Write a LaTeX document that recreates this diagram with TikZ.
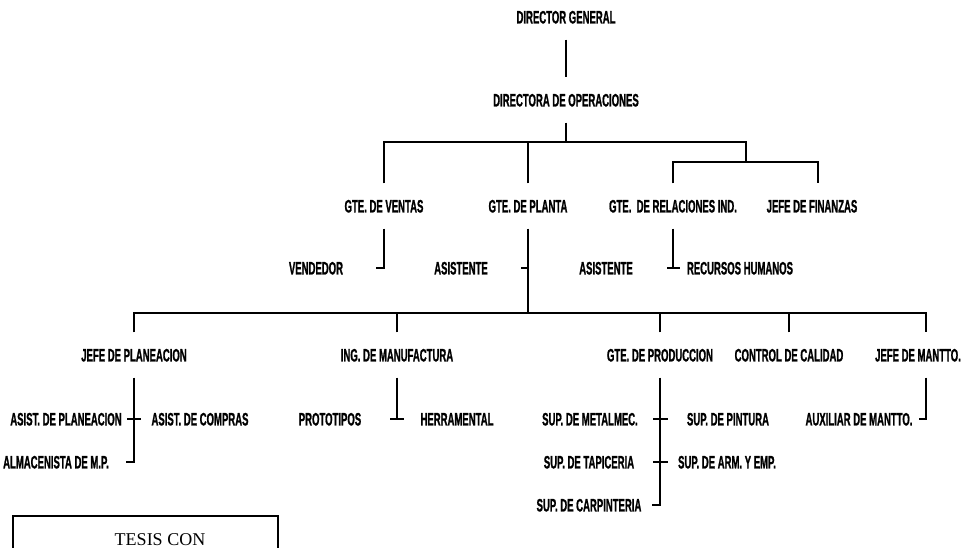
\documentclass[tikz,border=0pt]{standalone}
\usepackage{fontspec}
\newfontfamily\orgfont[FakeStretch=0.53,FakeBold=1]{Liberation Sans Bold}
\newfontfamily\tesisfont{Liberation Serif}
\begin{document}
\begin{tikzpicture}[x=1pt,y=-1pt,
  lbl/.style={font=\orgfont\fontsize{18}{18}\selectfont, inner xsep=0pt, inner ysep=16pt,
    text height=12.9pt, text depth=0pt, anchor=center},
  conn/.style={line width=1.3pt, black}]
\useasboundingbox (0,0) rectangle (972,548);
\clip (0,0) rectangle (972,548);
% level 0-1
\node[lbl] (dg)  at (566,17)  {DIRECTOR GENERAL};
\node[lbl] (dop) at (566,100) {DIRECTORA DE OPERACIONES};
% level 2
\node[lbl] (gv) at (384,206) {GTE. DE VENTAS};
\node[lbl] (gp) at (528,206) {GTE. DE PLANTA};
\node[lbl] (gr) at (673,206) {GTE.\ \ DE RELACIONES IND.};
\node[lbl] (gf) at (812,206) {JEFE DE FINANZAS};
% level 2 subs
\node[lbl] (vend) at (316,268) {VENDEDOR};
\node[lbl] (as1)  at (461,268) {ASISTENTE};
\node[lbl] (as2)  at (606,268) {ASISTENTE};
\node[lbl] (rh)   at (740,268) {RECURSOS HUMANOS};
% level 3
\node[lbl] (jp)  at (134,355) {JEFE DE PLANEACION};
\node[lbl] (im)  at (397,355) {ING. DE MANUFACTURA};
\node[lbl] (gpr) at (660,355) {GTE. DE PRODUCCION};
\node[lbl] (cc)  at (789,355) {CONTROL DE CALIDAD};
\node[lbl] (jm)  at (918,355) {JEFE DE MANTTO.};
% level 4
\node[lbl] (ap)   at (66,419)  {ASIST. DE PLANEACION};
\node[lbl] (ac)   at (200,419) {ASIST. DE COMPRAS};
\node[lbl] (alm)  at (56,462)  {ALMACENISTA DE M.P.};
\node[lbl] (prot) at (330,419) {PROTOTIPOS};
\node[lbl] (herr) at (457,419) {HERRAMENTAL};
\node[lbl] (smet) at (590,419) {SUP. DE METALMEC.};
\node[lbl] (spin) at (728,419) {SUP. DE PINTURA};
\node[lbl] (stap) at (589,462) {SUP. DE TAPICERIA};
\node[lbl] (sarm) at (727,462) {SUP. DE ARM. Y EMP.};
\node[lbl] (scar) at (589,505) {SUP. DE CARPINTERIA};
\node[lbl] (aux)  at (859,419) {AUXILIAR DE MANTTO.};
% coordinates
\coordinate (b1) at (566,142);
\coordinate (bR) at (746,142);
\coordinate (bR2) at (746,162);
\coordinate (b3) at (528,313);
\coordinate (vendend) at (376,268);
\coordinate (as1end) at (521,268);
\coordinate (rhL) at (667,268);
\coordinate (rhR) at (680,268);
\coordinate (jpL) at (127,419);
\coordinate (jpR) at (141,419);
\coordinate (almend) at (126,462);
\coordinate (imL) at (390,419);
\coordinate (imR) at (404,419);
\coordinate (gprL1) at (653,419);
\coordinate (gprR1) at (668,419);
\coordinate (gprL2) at (653,462);
\coordinate (gprR2) at (668,462);
\coordinate (scarend) at (652,505);
\coordinate (auxend) at (919,419);
% connectors top
\draw[conn] (dg.south) -- (dop.north);
\draw[conn] (dop.south) -- (b1);
\draw[conn] (gv.north) |- (bR) -- (bR2);
\draw[conn] (gp.north) -- (gp.north |- b1);
\draw[conn] (gr.north) |- (bR2) -| ([xshift=6pt]gf.north);
% level 2 subs
\draw[conn] (gv.south) |- (vendend);
\draw[conn] (gp.south) -- (b3);
\draw[conn] (as1end) -- (as1end -| gp.south);
\draw[conn] (gr.south) -- (gr.south |- rh);
\draw[conn] (rhL) -- (rhR);
% level 3 bus
\draw[conn] (jp.north) |- (b3) -| ([xshift=8pt]jm.north);
\draw[conn] (im.north) -- (im.north |- b3);
\draw[conn] (gpr.north) -- (gpr.north |- b3);
\draw[conn] (cc.north) -- (cc.north |- b3);
% level 4
\draw[conn] (jp.south) |- (almend);
\draw[conn] (jpL) -- (jpR);
\draw[conn] (im.south) -- (im.south |- imL);
\draw[conn] (imL) -- (imR);
\draw[conn] (gpr.south) |- (scarend);
\draw[conn] (gprL1) -- (gprR1);
\draw[conn] (gprL2) -- (gprR2);
\draw[conn] ([xshift=8pt]jm.south) |- (auxend);
% tesis box
\draw[line width=1.2pt] (13,580) -- (13,516) -- (278,516) -- (278,580);
\node[font=\tesisfont\fontsize{18}{18}\selectfont, anchor=base] (tesis) at (160,545) {TESIS CON};
\end{tikzpicture}
\end{document}
